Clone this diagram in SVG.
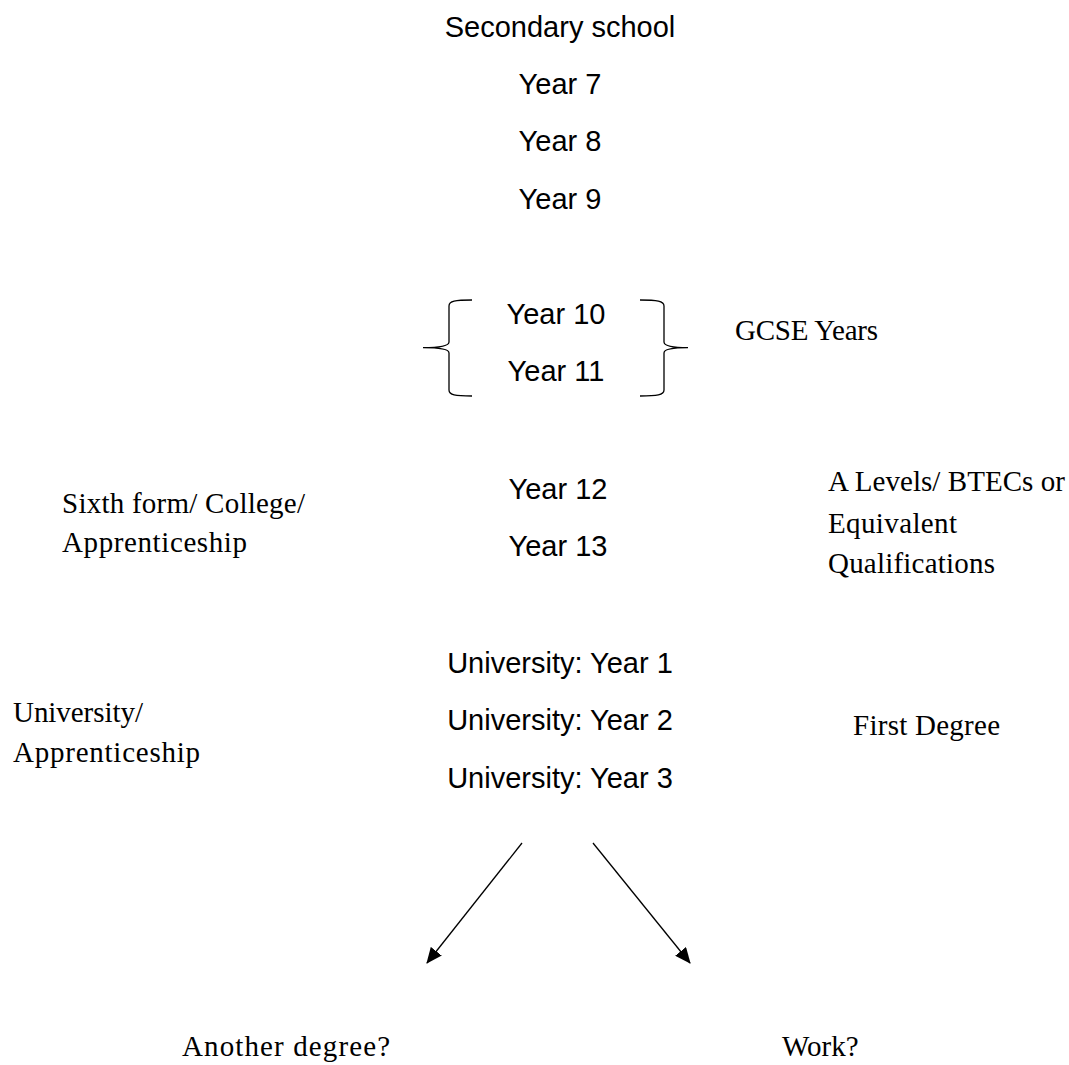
<svg xmlns="http://www.w3.org/2000/svg" width="1069" height="1065" viewBox="0 0 1069 1065">
<style>
.s{font-family:"Liberation Sans",Arial,sans-serif;font-size:29px;fill:#000;text-anchor:middle}
.r{font-family:"Liberation Serif","Times New Roman",serif;font-size:29px;fill:#000}
.b{fill:none;stroke:#000;stroke-width:1.3}
.c{stroke:#000;stroke-width:1.3;fill:none}
</style>
<defs>
<marker id="ah" markerWidth="16" markerHeight="14" refX="15" refY="7" orient="auto" markerUnits="userSpaceOnUse" viewBox="0 0 16 14">
<path d="M0,0 L16,7 L0,14 z" fill="#000"/>
</marker>
</defs>
<rect width="1069" height="1065" fill="#fff"/>
<g id="secondary"><text class="s" x="560" y="37">Secondary school</text></g>
<g id="y7"><text class="s" x="560" y="94">Year 7</text></g>
<g id="y8"><text class="s" x="560" y="151">Year 8</text></g>
<g id="y9"><text class="s" x="560" y="209">Year 9</text></g>
<g id="gcse">
<path class="b" d="M472,300 C455,300 449,301 449,306 L449,342 C449,346 440,347.7 423,347.7 C440,347.7 449,349 449,353 L449,390 C449,395 455,396 472,396"/>
<path class="b" d="M640,300 C657,300 664,301 664,306 L664,342 C664,346 673,347.7 688,347.7 C673,347.7 664,349 664,353 L664,390 C664,395 657,396 640,396"/>
<text class="s" x="556" y="324">Year 10</text>
<text class="s" x="556" y="381">Year 11</text>
</g>
<g id="gcse-label"><text class="r" x="735" y="340" textLength="143">GCSE Years</text></g>
<g id="y12"><text class="s" x="558" y="499">Year 12</text></g>
<g id="y13"><text class="s" x="558" y="556">Year 13</text></g>
<g id="sixth"><text class="r" x="62" y="513" textLength="243">Sixth form/ College/</text><text class="r" x="62" y="552" textLength="185">Apprenticeship</text></g>
<g id="alevels"><text class="r" x="828" y="491" textLength="237">A Levels/ BTECs or</text><text class="r" x="828" y="533" textLength="129">Equivalent</text><text class="r" x="828" y="573" textLength="167">Qualifications</text></g>
<g id="u1"><text class="s" x="560" y="673">University: Year 1</text></g>
<g id="u2"><text class="s" x="560" y="730">University: Year 2</text></g>
<g id="u3"><text class="s" x="560" y="788">University: Year 3</text></g>
<g id="uni"><text class="r" x="13" y="722" textLength="130">University/</text><text class="r" x="13" y="762" textLength="187">Apprenticeship</text></g>
<g id="first"><text class="r" x="853" y="735" textLength="147">First Degree</text></g>
<g id="connectors">
<line class="c" x1="522" y1="843" x2="427" y2="963" marker-end="url(#ah)"/>
<line class="c" x1="593" y1="843" x2="690" y2="963" marker-end="url(#ah)"/>
</g>
<g id="another"><text class="r" x="182" y="1056" textLength="208">Another degree?</text></g>
<g id="work"><text class="r" x="782" y="1056">Work?</text></g>
</svg>
